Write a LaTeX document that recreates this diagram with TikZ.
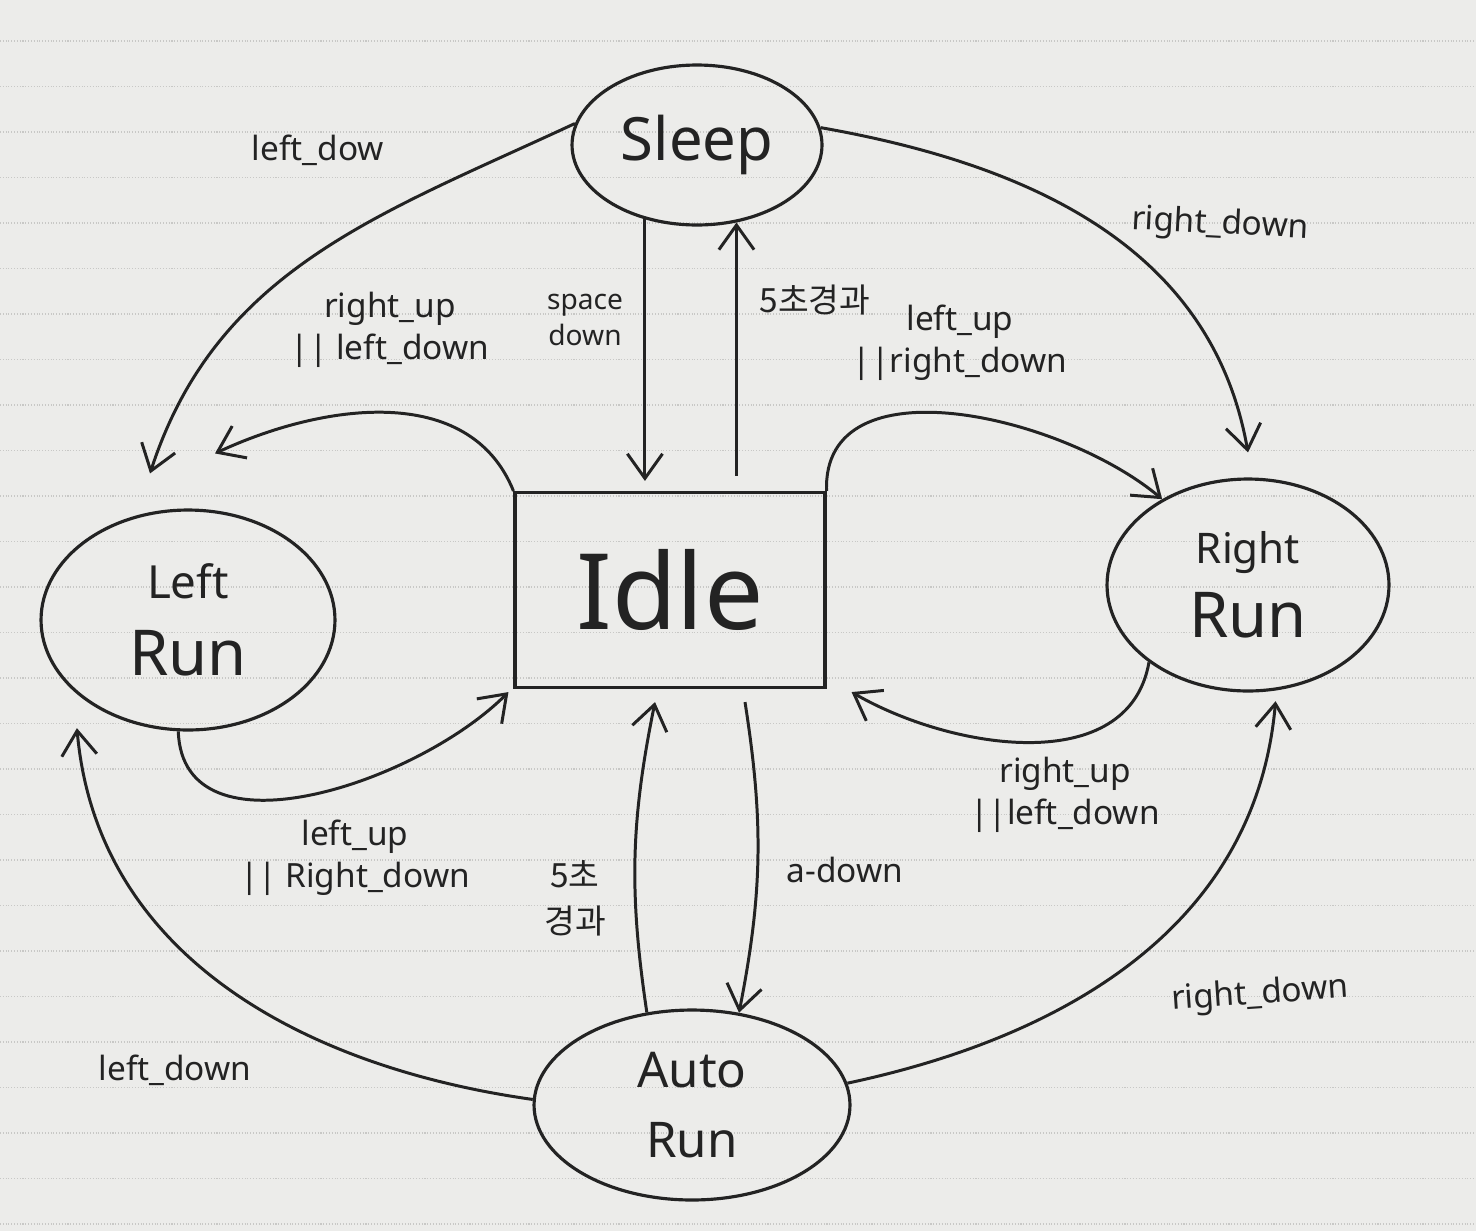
\documentclass[tikz,border=0pt]{standalone}
\usepackage{fontspec}
\setmainfont{Noto Sans}
\newfontfamily\kr{Noto Sans CJK KR}
\usetikzlibrary{shapes.geometric,arrows.meta,calc}
\definecolor{ink}{RGB}{35,35,35}
\definecolor{paper}{RGB}{236,236,234}
\definecolor{rule}{RGB}{200,200,198}
\tikzset{
  state/.style={draw=ink, ellipse, line width=1.8pt, inner sep=0pt, align=center, text=ink},
  trans/.style={draw=ink, line width=1.7pt, -{Straight Barb[length=14pt,width=20pt,line width=1.7pt]}},
  lbl/.style={font=\fontsize{19}{24}\selectfont, align=center, inner sep=1pt, text=ink},
  krlbl/.style={font=\kr\fontsize{19}{26}\selectfont, align=center, inner sep=1pt, text=ink},
}
\begin{document}
\begin{tikzpicture}[x=0.02cm,y=-0.02cm]
\useasboundingbox (0,0) rectangle (1476,1231);
\fill[paper] (0,0) rectangle (1476,1231);
\foreach \k in {0,...,26} {
  \draw[rule, line width=0.6pt, densely dotted] (0,{41+45.5*\k}) -- (1476,{41+45.5*\k});
}

% states
\node[state, minimum width=5cm, minimum height=3.2cm, font=\fontsize{34}{40}\selectfont] (sleep) at (697,145) {Sleep};
\node[draw=ink, line width=1.8pt, minimum width=6.2cm, minimum height=3.9cm, inner sep=0pt, text=ink, font=\fontsize{60}{70}\selectfont] (idle) at (670,590) {Idle};
\node[state, minimum width=5.88cm, minimum height=4.4cm, font=\fontsize{34}{44}\selectfont] (leftrun) at (188,620) {\fontsize{26}{44}\selectfont Left\\\fontsize{36}{44}\selectfont Run};
\node[state, minimum width=5.64cm, minimum height=4.24cm, font=\fontsize{34}{42}\selectfont] (rightrun) at (1248,585) {\fontsize{24}{42}\selectfont Right\\\fontsize{36}{42}\selectfont Run};
\node[state, minimum width=6.32cm, minimum height=3.8cm, font=\fontsize{28}{40}\selectfont] (autorun) at (692,1105) {Auto\\Run};

% transitions
\draw[trans] (sleep.170) to[out=205,in=72] ($(leftrun.north)+(-38,-35)$);
\draw[trans] (sleep.8) to[out=-10,in=100] ($(rightrun.north)+(0,-25)$);
\draw[trans] (sleep.235) -- ($(sleep.235 |- idle.north)+(0,-10)$);
\draw[trans] ($(idle.north -| sleep.297)+(0,-15)$) -- (sleep.297);
\draw[trans] (idle.north west) to[out=112,in=25] ($(leftrun.north)+(27,-55)$);
\draw[trans] (idle.north east) to[out=92,in=140] (rightrun.135);
\draw[trans] (leftrun.265) to[out=-88,in=225] ($(idle.south west)+(-5,3)$);
\draw[trans] (rightrun.218) to[out=-100,in=-30] ($(idle.south east)+(25,3)$);
\draw[trans] (autorun.116) to[bend left=10] ($(idle.south)+(-15,13)$);
\draw[trans] ($(idle.south)+(75,13)$) to[bend left=10] (autorun.63);
\draw[trans] (autorun.178) to[out=172,in=275] ($(leftrun.220)+(-12,25)$);
\draw[trans] (autorun.8) to[out=12,in=265] ($(rightrun.-78)+(5,10)$);

% labels
\node[lbl] (l1) at (318,150) {left\_dow};
\node[lbl, rotate=-3] (l2) at (1220,225) {right\_down};
\node[lbl] (l3) at (390,330) {right\_up\\|| left\_down};
\node[lbl, font=\fontsize{16}{20}\selectfont] (l4) at (585,320) {space\\down};
\node[krlbl] (l5) at (815,300) {5초경과};
\node[lbl] (l6) at (960,343) {left\_up\\||right\_down};
\node[lbl] (l7) at (355,858) {left\_up\\|| Right\_down};
\node[lbl] (l8) at (1065,795) {right\_up\\||left\_down};
\node[krlbl] (l9) at (575,898) {5초\\경과};
\node[lbl] (l10) at (845,870) {a-down};
\node[lbl] (l11) at (175,1070) {left\_down};
\node[lbl, rotate=4] (l12) at (1260,995) {right\_down};
\end{tikzpicture}
\end{document}
